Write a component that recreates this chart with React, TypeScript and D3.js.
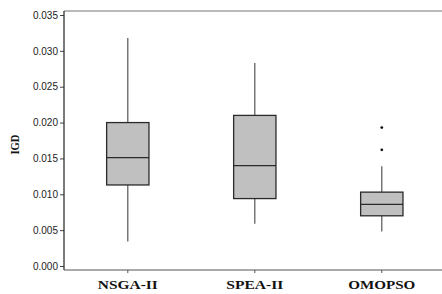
import React, { useEffect, useRef } from 'react';
import * as d3 from 'd3';

const algorithms = ['NSGA-II', 'SPEA-II', 'OMOPSO'];
const whiskerLow = [0.0034, 0.0059, 0.0048];
const q1 = [0.0113, 0.0094, 0.0070];
const median = [0.0151, 0.0140, 0.0086];
const q3 = [0.0200, 0.0210, 0.0103];
const whiskerHigh = [0.0318, 0.0283, 0.0139];
const outliers = [[], [], [0.0193, 0.0162]];
const yTicks = [0, 0.005, 0.01, 0.015, 0.02, 0.025, 0.03, 0.035];
const labelWidths = [60, 57, 67];

const App: React.FC = () => {
  const svgRef = useRef<SVGSVGElement>(null);

  useEffect(() => {
    if (!svgRef.current) return;
    const svg = d3.select(svgRef.current);
    svg.selectAll('*').remove();

    const left = 64;
    const top = 11;
    const bottom = 270;
    const right = 442;

    const x = d3.scaleBand<string>()
      .domain(algorithms)
      .range([64.3, 445.3])
      .padding(0);

    const y = d3.scaleLinear()
      .domain([0, 0.035])
      .range([266, 15]);

    const boxW = x.bandwidth() / 3;

    // frame
    svg.append('line')
      .attr('x1', left).attr('x2', right)
      .attr('y1', top).attr('y2', top)
      .attr('stroke', '#777').attr('stroke-width', 1.2);

    const yAxis = svg.append('g')
      .attr('transform', `translate(${left},0)`)
      .call(d3.axisLeft(y).tickValues(yTicks).tickSize(4).tickPadding(2).tickFormat(d3.format('.3f')));
    yAxis.select('.domain').remove();
    yAxis.selectAll('.tick line').attr('stroke', '#444');
    yAxis.selectAll('.tick text')
      .attr('fill', '#222')
      .style('font-family', 'Liberation Sans, Arial, sans-serif')
      .style('font-size', '10px');

    svg.append('line')
      .attr('x1', left).attr('x2', left)
      .attr('y1', top).attr('y2', bottom)
      .attr('stroke', '#222').attr('stroke-width', 1.2);

    svg.append('line')
      .attr('x1', left).attr('x2', right)
      .attr('y1', bottom).attr('y2', bottom)
      .attr('stroke', '#555').attr('stroke-width', 1.2);

    // x ticks + labels
    algorithms.forEach((a, i) => {
      const cx = x(a)! + x.bandwidth() / 2;
      svg.append('line')
        .attr('x1', cx).attr('x2', cx)
        .attr('y1', bottom).attr('y2', bottom + 3)
        .attr('stroke', '#555');
      svg.append('text')
        .attr('x', cx - labelWidths[i] / 2)
        .attr('y', 289)
        .attr('textLength', labelWidths[i])
        .attr('lengthAdjust', 'spacingAndGlyphs')
        .style('font-family', 'Liberation Serif, Times New Roman, serif')
        .style('font-weight', 'bold')
        .style('font-size', '13px')
        .attr('fill', '#111')
        .text(a);
    });

    svg.append('text')
      .attr('transform', 'translate(19,144.5) rotate(-90)')
      .attr('x', -10)
      .attr('textLength', 20)
      .attr('lengthAdjust', 'spacingAndGlyphs')
      .style('font-family', 'Liberation Serif, Times New Roman, serif')
      .style('font-weight', 'bold')
      .style('font-size', '12px')
      .attr('fill', '#111')
      .text('IGD');

    // boxes
    algorithms.forEach((a, i) => {
      const cx = x(a)! + x.bandwidth() / 2;
      const g = svg.append('g');
      g.append('line')
        .attr('x1', cx).attr('x2', cx)
        .attr('y1', y(whiskerHigh[i])).attr('y2', y(q3[i]))
        .attr('stroke', '#555').attr('stroke-width', 1.2);
      g.append('line')
        .attr('x1', cx).attr('x2', cx)
        .attr('y1', y(q1[i])).attr('y2', y(whiskerLow[i]))
        .attr('stroke', '#555').attr('stroke-width', 1.2);
      g.append('rect')
        .attr('x', cx - boxW / 2)
        .attr('y', y(q3[i]))
        .attr('width', boxW)
        .attr('height', y(q1[i]) - y(q3[i]))
        .attr('fill', '#c0c0c0')
        .attr('stroke', '#2a2a2a')
        .attr('stroke-width', 1.3);
      g.append('line')
        .attr('x1', cx - boxW / 2).attr('x2', cx + boxW / 2)
        .attr('y1', y(median[i])).attr('y2', y(median[i]))
        .attr('stroke', '#2a2a2a').attr('stroke-width', 1.3);
      g.selectAll('circle')
        .data(outliers[i])
        .enter()
        .append('circle')
        .attr('cx', cx)
        .attr('cy', d => y(d))
        .attr('r', 1.4)
        .attr('fill', '#111');
    });
  }, []);

  return (
    <svg
      ref={svgRef}
      width={442}
      height={294}
      style={{ position: 'absolute', left: 0, top: 0, background: '#fff' }}
    />
  );
};

export default App;
